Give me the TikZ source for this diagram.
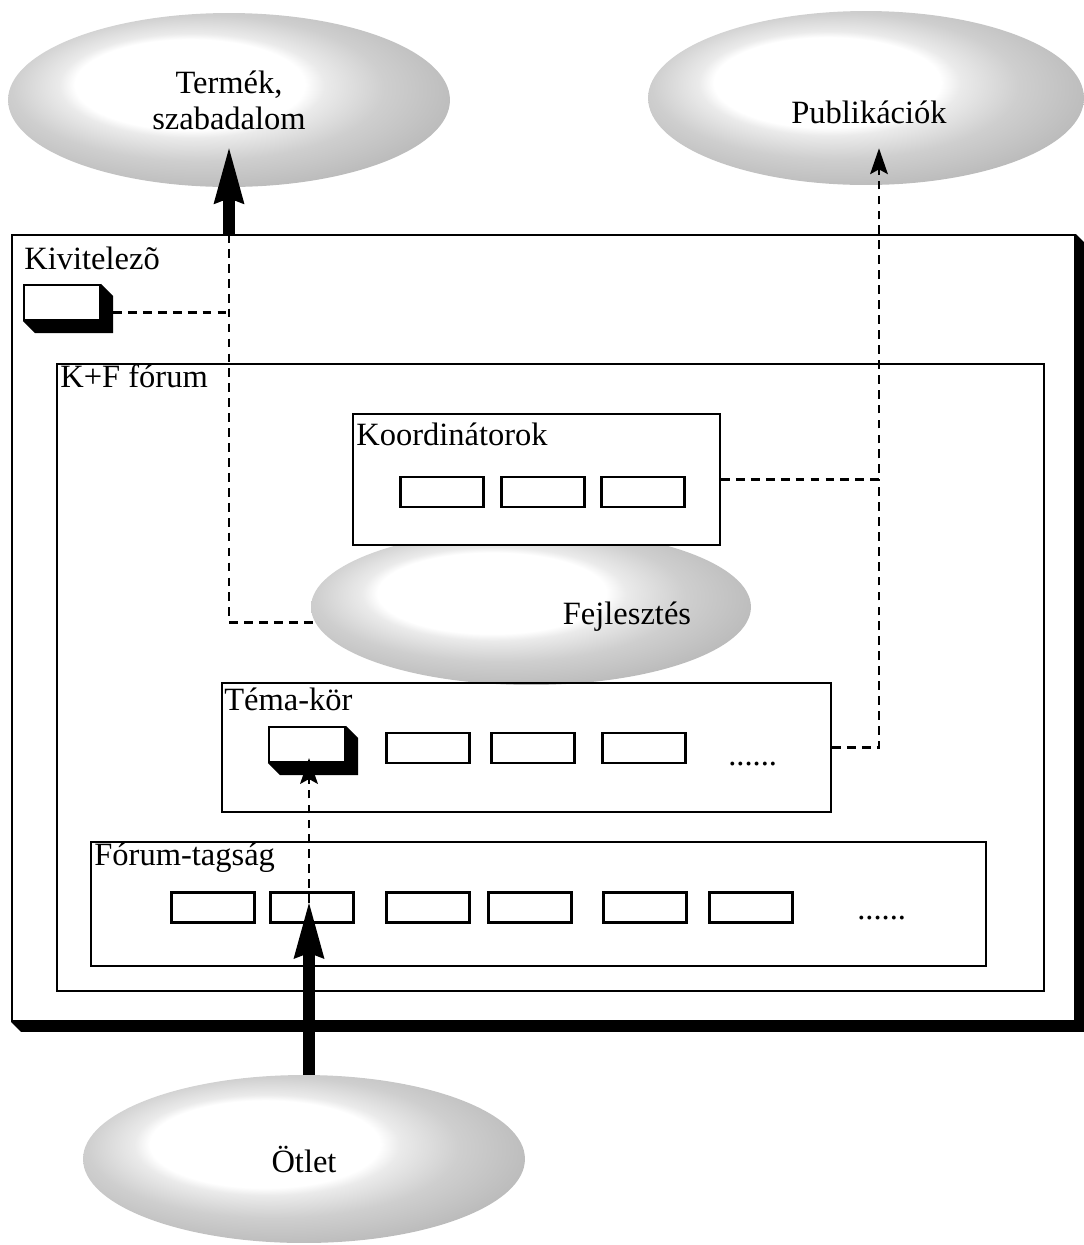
\documentclass[tikz,border=0pt]{standalone}
\usepackage{fontspec}
\setmainfont{Liberation Serif}
\usetikzlibrary{shapes.geometric,arrows.meta}
\pgfdeclareradialshading{glow}{\pgfpoint{-6bp}{6bp}}{color(0bp)=(white); color(13bp)=(white); color(15bp)=(gray!16); color(21bp)=(gray!38); color(31bp)=(gray!58); color(50bp)=(gray!58)}

\begin{document}
\begin{tikzpicture}[x=0.02cm, y=-0.02cm]
    \tikzstyle{every node} = [font=\fontsize{18.5}{20.5}\selectfont]
    \tikzstyle{blob} = [ellipse, shading=glow, inner sep=0pt]
    \tikzstyle{frame} = [draw, line width=1.2pt]
    \tikzstyle{member} = [draw, line width=1.6pt, minimum width=1.66cm, minimum height=0.6cm]
    \tikzstyle{leader} = [draw, line width=1.2pt, fill=white, minimum width=1.52cm, minimum height=0.7cm]
    \tikzstyle{tag} = [anchor=base west, inner sep=0pt]
    \tikzstyle{link} = [line width=1.6pt, dash pattern=on 5pt off 3.5pt]
    \tikzstyle{dashtip} = [-{Stealth[length=0.52cm, width=0.36cm, inset=0.1cm, line width=0pt]}]
    \tikzstyle{bigarrow} = [line width=6.5pt, -{Stealth[length=1.12cm, width=0.62cm, inset=0.12cm, line width=0pt]}]

    \useasboundingbox (0,0) rectangle (1084,1245);

    % Kivitelezo frame with its shadow
    \node[frame, minimum width=21.26cm, minimum height=15.72cm](kiv) at (543.5,628){};
    \fill (kiv.north east) -- ++(10,10) -- ([shift={(10,10)}]kiv.south east) -- ([shift={(10,10)}]kiv.south west) -- (kiv.south west) -- (kiv.south east) -- cycle;
    \node[frame, minimum width=19.74cm, minimum height=12.54cm](kf) at (550.5,677.5){};

    % ellipses
    \node[blob, minimum width=8.84cm, minimum height=3.48cm, align=center](termek) at (229,100){Termék,\\szabadalom};
    \node[blob, minimum width=8.72cm, minimum height=3.48cm](publ) at (866,98){};
    \node(publ-text) at (869,112){Publikációk};
    \node[blob, minimum width=8.8cm, minimum height=3.12cm](fejl) at (531,607){};
    \node(fejl-text) at (627,617){Fejlesztés};
    \node[blob, minimum width=8.84cm, minimum height=3.36cm](otlet) at (304,1159){Ötlet};

    % groups
    \node[frame, fill=white, minimum width=7.34cm, minimum height=2.62cm](koord) at (536.5,479.5){};
    \node[frame, minimum width=12.18cm, minimum height=2.58cm](tema) at (526.5,747.5){};
    \node[frame, minimum width=17.9cm, minimum height=2.48cm](forum) at (538.5,904){};

    \node[tag](kiv-tag) at ([shift={(13,35)}]kiv.north west){Kivitelezõ};
    \node[tag](kf-tag) at ([shift={(4,24)}]kf.north west){K+F fórum};
    \node[tag](koord-tag) at ([shift={(4,33)}]koord.north west){Koordinátorok};
    \node[tag](tema-tag) at ([shift={(3,29)}]tema.north west){Téma-kör};
    \node[tag](forum-tag) at ([shift={(4,25)}]forum.north west){Fórum-tagság};

    % members
    \node[member](k1) at (442,492){};
    \node[member](k2) at (543,492){};
    \node[member](k3) at (643,492){};

    \node[member](t1) at (428,748){};
    \node[member](t2) at (533,748){};
    \node[member](t3) at (644,748){};
    \node[tag](tema-more) at (728,765){......};

    \node[member](f1) at (213,907.5){};
    \node[member](f2) at (312,907.5){};
    \node[member](f3) at (428,907.5){};
    \node[member](f4) at (530,907.5){};
    \node[member](f5) at (645,907.5){};
    \node[member](f6) at (751,907.5){};
    \node[tag](forum-more) at (857,919){......};

    % boxes with 3d shadow
    \node[leader](kivbox) at (62,302.5){};
    \fill (kivbox.north east) -- ++(12,12) -- ([shift={(12,12)}]kivbox.south east) -- ([shift={(12,12)}]kivbox.south west) -- (kivbox.south west) -- (kivbox.south east) -- cycle;
    \node[leader](lead) at (307,744.5){};
    \fill (lead.north east) -- ++(12,12) -- ([shift={(12,12)}]lead.south east) -- ([shift={(12,12)}]lead.south west) -- (lead.south west) -- (lead.south east) -- cycle;

    % connectors
    \coordinate (kivport) at ([shift={(12,10)}]kivbox.east);
    \draw[link](kivport) -- (kivport -| termek);
    \draw[link](termek |- kiv.north) |- (fejl.184);
    \draw[bigarrow](termek |- kiv.north) -- ([yshift=0.78cm]termek.south);

    \coordinate (pubin) at ([shift={(13,-37)}]publ.south);
    \draw[link, dashtip](koord.east) -| (pubin);
    \draw[link](tema.east) -| (koord.east -| pubin);

    \coordinate (idea) at (309,903);
    \coordinate (leadin) at ([yshift=0.1cm]lead.south);
    \draw[link, dashtip](idea) -- (idea |- leadin);
    \draw[bigarrow](idea |- otlet.north) -- (idea);
\end{tikzpicture}
\end{document}
